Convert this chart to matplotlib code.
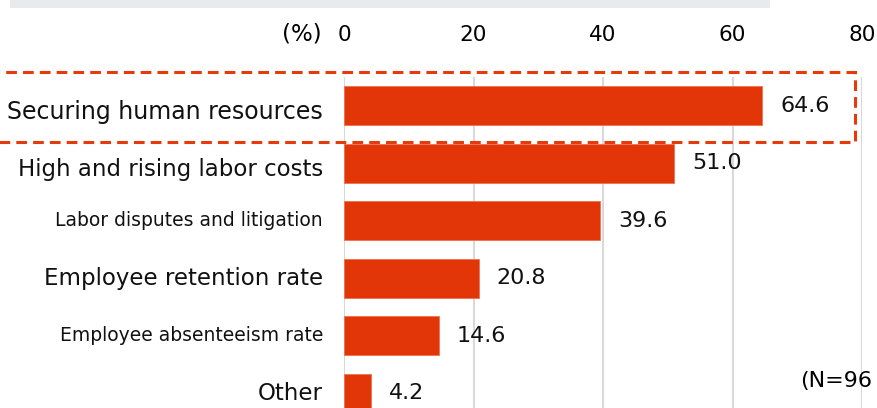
import matplotlib
matplotlib.use('Agg')
import matplotlib.pyplot as plt
import matplotlib.transforms as mtrans
from matplotlib.patches import Rectangle

# data
categories = ['Securing human resources', 'High and rising labor costs',
              'Labor disputes and litigation', 'Employee retention rate',
              'Employee absenteeism rate', 'Other']
values = [64.6, 51.0, 39.6, 20.8, 14.6, 4.2]
label_sizes = [17, 16.5, 13.5, 16.5, 13.5, 16.5]
x_ticks = [0, 20, 40, 60, 80]

bar_color = '#e23508'
W, H = 877, 408

fig = plt.figure(figsize=(W / 100, H / 100), dpi=100)
# axes placed in pixel terms; bottom row is cut off like the original
left, right, top, bottom = 344, 862, 77, 422
ax = fig.add_axes([left / W, (H - bottom) / H, (right - left) / W, (bottom - top) / H])

ypos = list(range(len(categories)))
ax.barh(ypos, values, height=0.68, color=bar_color, edgecolor='#f07050', linewidth=0.6, zorder=3)
for y, v in zip(ypos, values):
    ax.text(v + 2.8, y, f'{v:.1f}', va='center', ha='left', fontsize=16, color='#111111', zorder=4)

# category labels (first two sit a little low in the original)
label_shift = [-6, -6, 0, 0, 0, 0]
for y, name, s, dy in zip(ypos, categories, label_sizes, label_shift):
    tr = ax.get_yaxis_transform() + mtrans.ScaledTranslation(-21 / 100, dy / 100, fig.dpi_scale_trans)
    ax.text(0, y, name, transform=tr, ha='right', va='center', fontsize=s, color='#111111')

ax.set_xlim(0, 80)
ax.set_ylim(len(categories) - 0.5, -0.5)
ax.xaxis.tick_top()
ax.set_xticks(x_ticks)
ax.set_xticklabels([str(t) for t in x_ticks], fontsize=15.5)
ax.tick_params(axis='x', length=0, pad=23)
ax.set_yticks([])
ax.grid(axis='x', color='#d9d9d9', linewidth=1.5, zorder=0)
for sp in ax.spines.values():
    sp.set_visible(False)

# grey title band at the very top (its text is cut off)
fig.patches.append(Rectangle((10 / W, (H - 8) / H), 760 / W, 8 / H, transform=fig.transFigure,
                             facecolor='#e8ebee', edgecolor='none'))

# dashed highlight around the first row
fig.patches.append(Rectangle((-5 / W, (H - 142) / H), 860 / W, 70 / H, transform=fig.transFigure,
                             facecolor='none', edgecolor='#e63a0a', linewidth=2.2,
                             linestyle=(0, (3.5, 2)), zorder=5))

fig.text(322 / W, (H - 34) / H, '(%)', ha='right', va='center', fontsize=16.5)
fig.text(800 / W, (H - 381) / H, '(N=96', ha='left', va='center', fontsize=16)

fig.savefig('out.png', dpi=100)
